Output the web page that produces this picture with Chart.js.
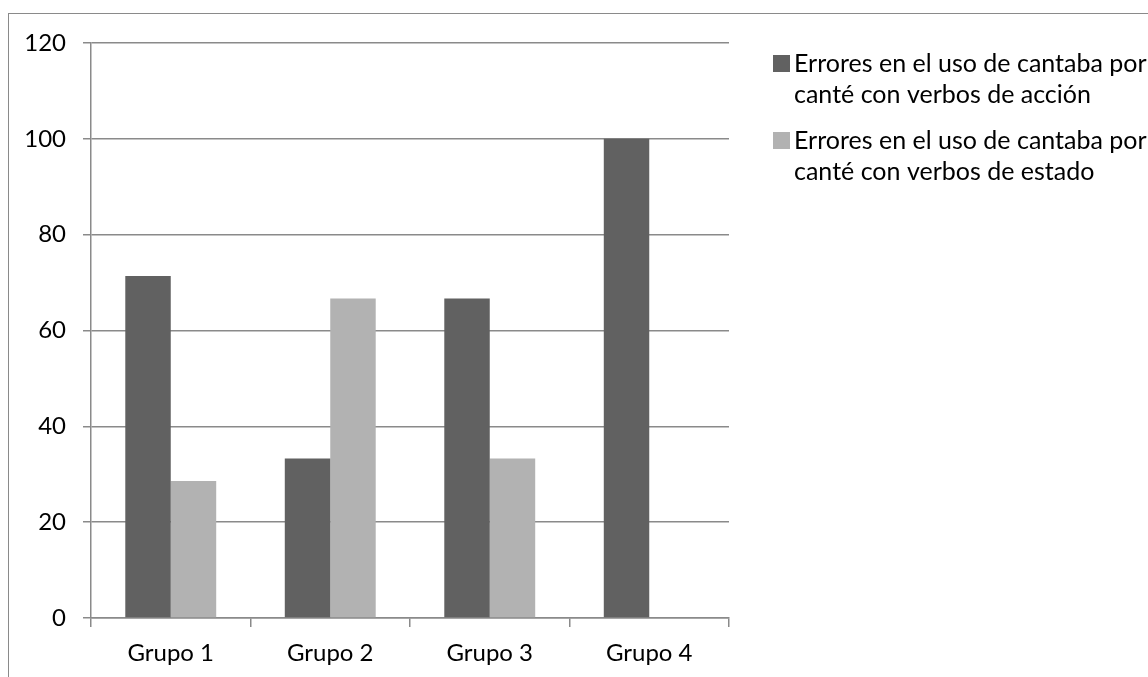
<!DOCTYPE html>
<html>
<head>
<meta charset="utf-8">
<script src="https://cdn.jsdelivr.net/npm/chart.js@4"></script>
<style>
  body { margin: 0; background: #fff; }
  #wrap { position: relative; width: 1148px; height: 677px; overflow: hidden; }
  #frame {
    position: absolute; left: 8px; top: 13px; width: 1200px; height: 700px;
    border-left: 1px solid #8a8a8a; border-top: 1px solid #8a8a8a;
    pointer-events: none;
  }
</style>
</head>
<body>
<div id="wrap">
  <canvas id="barChart" width="1148" height="677"></canvas>
  <div id="frame"></div>
</div>
<script>
const groups = ["Grupo 1", "Grupo 2", "Grupo 3", "Grupo 4"];
const accionValues = [71.4, 33.3, 66.7, 100];
const estadoValues = [28.6, 66.7, 33.3, 0];
const legendLines = [
  ["Errores en el uso de cantaba por", "canté con verbos de acción"],
  ["Errores en el uso de cantaba por", "canté con verbos de estado"]
];

const FONT = "Lato";
const GRID = "#8a8a8a";

// legend on the right, two lines per entry
const sideLegend = {
  id: "sideLegend",
  afterDraw(chart) {
    const ctx = chart.ctx;
    const x = chart.chartArea.right + 44;
    ctx.save();
    ctx.font = "25px " + FONT;
    ctx.textBaseline = "middle";
    chart.data.datasets.forEach((ds, i) => {
      const y = 64 + i * 77;
      ctx.fillStyle = ds.backgroundColor;
      ctx.fillRect(x, y - 9, 17, 17);
      ctx.fillStyle = "#000";
      legendLines[i].forEach((line, j) => {
        ctx.fillText(line, x + 21, y + j * 31);
      });
    });
    ctx.restore();
  }
};

new Chart(document.getElementById("barChart"), {
  type: "bar",
  data: {
    labels: groups,
    datasets: [
      { label: legendLines[0].join(" "), data: accionValues, backgroundColor: "#616161" },
      { label: legendLines[1].join(" "), data: estadoValues, backgroundColor: "#b2b2b2" }
    ]
  },
  options: {
    responsive: false,
    animation: false,
    layout: { padding: { top: 43, right: 419, left: 0, bottom: 0 } },
    datasets: { bar: { categoryPercentage: 0.57, barPercentage: 1 } },
    plugins: { legend: { display: false }, tooltip: { enabled: false } },
    scales: {
      x: {
        afterFit(scale) { scale.height = 59; },
        grid: { offset: true, drawOnChartArea: false, tickLength: 9, color: GRID, lineWidth: 1.5 },
        border: { color: GRID, width: 1.5 },
        ticks: { color: "#000", padding: 12, font: { family: FONT, size: 24 } }
      },
      y: {
        min: 0,
        max: 120,
        afterFit(scale) { scale.width = 91; },
        grid: { tickLength: 8, color: GRID, lineWidth: 1.5 },
        border: { color: GRID, width: 1.5 },
        ticks: { stepSize: 20, color: "#000", padding: 17, font: { family: FONT, size: 24 } }
      }
    }
  },
  plugins: [sideLegend]
});
</script>
</body>
</html>
